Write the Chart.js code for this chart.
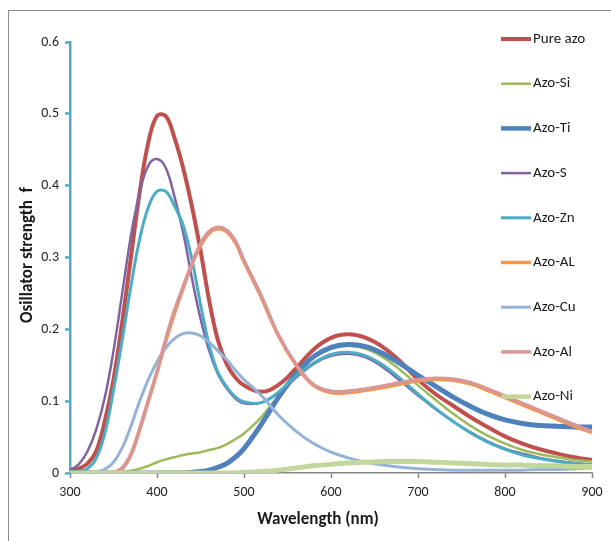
<!DOCTYPE html>
<html>
<head>
<meta charset="utf-8">
<script src="https://cdn.jsdelivr.net/npm/chart.js@4"></script>
<style>
  body { margin: 0; background: #fff; }
  canvas { display: block; }
</style>
</head>
<body>
<canvas id="oscChart" width="611" height="541"></canvas>
<script>
// wavelengths (nm) - finer steps where the bands are steep
const wavelengths = [300, 310, 320, 330, 340, 350, 360, 370, 380, 390, 400, 410, 420, 430, 440, 450, 460, 470, 480, 490, 500,
                     520, 540, 560, 580, 600, 620, 640, 660, 680, 700, 720, 740, 760, 780, 800, 820, 840, 860, 880, 900];

const pureAzo = [0.002, 0.006, 0.013, 0.03, 0.072, 0.13, 0.21, 0.30, 0.39, 0.46, 0.497, 0.497, 0.467, 0.425, 0.372, 0.31, 0.24, 0.185, 0.152, 0.133, 0.122,
                 0.113, 0.123, 0.146, 0.172, 0.188, 0.193, 0.188, 0.175, 0.155, 0.13, 0.11, 0.094, 0.078, 0.064, 0.051, 0.041, 0.033, 0.027, 0.022, 0.018];
const azoSi = [0, 0, 0, 0, 0, 0, 0.001, 0.003, 0.006, 0.01, 0.015, 0.019, 0.022, 0.025, 0.027, 0.029, 0.032, 0.035, 0.04, 0.047, 0.055,
               0.078, 0.108, 0.137, 0.16, 0.173, 0.177, 0.173, 0.161, 0.143, 0.122, 0.102, 0.083, 0.066, 0.052, 0.041, 0.032, 0.026, 0.022, 0.018, 0.016];
const azoTi = [0, 0, 0, 0, 0, 0, 0, 0, 0, 0, 0, 0, 0, 0, 0.001, 0.002, 0.004, 0.008, 0.013, 0.022, 0.034,
               0.068, 0.106, 0.138, 0.162, 0.175, 0.179, 0.176, 0.166, 0.152, 0.136, 0.121, 0.106, 0.093, 0.082, 0.074, 0.069, 0.066, 0.065, 0.064, 0.064];
const azoS = [0.004, 0.012, 0.03, 0.06, 0.105, 0.17, 0.25, 0.33, 0.39, 0.428, 0.437, 0.425, 0.385, 0.335, 0.272, 0.215, 0.17, 0.138, 0.118, 0.104, 0.097,
              0.098, 0.112, 0.133, 0.152, 0.163, 0.166, 0.161, 0.147, 0.128, 0.108, 0.089, 0.072, 0.057, 0.044, 0.034, 0.027, 0.021, 0.017, 0.014, 0.012];
const azoZn = [0, 0.002, 0.006, 0.02, 0.055, 0.115, 0.185, 0.26, 0.325, 0.37, 0.392, 0.392, 0.372, 0.345, 0.298, 0.235, 0.178, 0.14, 0.12, 0.106, 0.099,
               0.098, 0.113, 0.135, 0.153, 0.165, 0.168, 0.163, 0.15, 0.131, 0.11, 0.09, 0.072, 0.056, 0.043, 0.033, 0.025, 0.02, 0.016, 0.013, 0.011];
const azoAL = [0, 0, 0, 0, 0, 0.001, 0.006, 0.025, 0.06, 0.1, 0.14, 0.183, 0.222, 0.257, 0.29, 0.316, 0.334, 0.34, 0.336, 0.321, 0.294,
               0.244, 0.19, 0.15, 0.122, 0.112, 0.112, 0.115, 0.119, 0.124, 0.128, 0.13, 0.129, 0.124, 0.115, 0.105, 0.095, 0.085, 0.075, 0.065, 0.056];
const azoCu = [0, 0, 0.001, 0.002, 0.005, 0.015, 0.035, 0.065, 0.1, 0.13, 0.155, 0.174, 0.187, 0.194, 0.195, 0.191, 0.182, 0.17, 0.158, 0.143, 0.13,
               0.108, 0.08, 0.058, 0.041, 0.029, 0.021, 0.015, 0.011, 0.008, 0.006, 0.005, 0.004, 0.004, 0.004, 0.004, 0.004, 0.005, 0.005, 0.006, 0.007];
const azoAl = [0, 0, 0, 0, 0, 0.001, 0.007, 0.026, 0.061, 0.101, 0.141, 0.186, 0.226, 0.259, 0.291, 0.319, 0.336, 0.342, 0.338, 0.323, 0.296,
               0.246, 0.191, 0.151, 0.123, 0.114, 0.114, 0.117, 0.121, 0.126, 0.13, 0.132, 0.131, 0.126, 0.117, 0.107, 0.097, 0.087, 0.077, 0.067, 0.058];
const azoNi = [0, 0, 0, 0, 0, 0, 0, 0, 0, 0, 0, 0, 0, 0, 0, 0, 0, 0, 0, 0, 0.001,
               0.002, 0.004, 0.007, 0.01, 0.012, 0.014, 0.015, 0.016, 0.016, 0.016, 0.015, 0.014, 0.013, 0.012, 0.011, 0.011, 0.01, 0.01, 0.009, 0.009];

const seriesNames = ["Pure azo", "Azo-Si", "Azo-Ti", "Azo-S", "Azo-Zn", "Azo-AL", "Azo-Cu", "Azo-Al", "Azo-Ni"];
const seriesValues = [pureAzo, azoSi, azoTi, azoS, azoZn, azoAL, azoCu, azoAl, azoNi];
const seriesColors = ["#C0504D", "#9BBB59", "#4F81BD", "#8064A2", "#4BACC6", "#F79646", "#95B3D7", "#D99694", "#C3D69B"];
const seriesWidths = [4, 2.5, 5, 2.5, 3, 3.5, 3, 3.5, 5];

const xTicks = [300, 400, 500, 600, 700, 800, 900];
const yTicks = [0, 0.1, 0.2, 0.3, 0.4, 0.5, 0.6];

const fontFam = 'Carlito, "Liberation Sans", Arial, sans-serif';

const datasets = seriesNames.map((name, i) => ({
    label: name,
    data: wavelengths.map((w, j) => ({ x: w, y: seriesValues[i][j] })),
    borderColor: seriesColors[i],
    borderWidth: seriesWidths[i],
    pointRadius: 0,
    fill: false,
    tension: 0.4,
    order: seriesNames.length - i   // later series drawn on top, like the original
}));

// frame, axis titles and the legend drawn straight on the canvas
const decorations = {
    id: 'decorations',
    beforeDraw(chart) {
        const c = chart.ctx;
        c.save();
        c.fillStyle = '#fff';
        c.fillRect(0, 0, chart.width, chart.height);
        c.strokeStyle = '#8c8c8c';
        c.lineWidth = 1;
        c.strokeRect(8.5, 10.5, 700, 700);
        c.restore();
    },
    afterDraw(chart) {
        const c = chart.ctx;
        c.save();
        c.fillStyle = '#1a1a1a';
        c.font = 'bold 17px ' + fontFam;
        c.textAlign = 'center';
        c.textBaseline = 'middle';
        c.fillText('Wavelength (nm)', 318, 520);

        c.translate(28, 255);
        c.rotate(-Math.PI / 2);
        c.fillText('Osillator strength  f', 0, 0);
        c.restore();

        c.save();
        c.font = '15px ' + fontFam;
        c.textAlign = 'left';
        c.textBaseline = 'middle';
        seriesNames.forEach((name, i) => {
            const y = 39 + i * 44.7;
            c.strokeStyle = seriesColors[i];
            c.lineWidth = Math.min(seriesWidths[i], 4.5);
            c.beginPath();
            c.moveTo(501, y);
            c.lineTo(531, y);
            c.stroke();
            c.fillStyle = '#1a1a1a';
            c.fillText(name, 533, y);
        });
        c.restore();
    }
};

const config = {
    type: 'line',
    data: { datasets },
    options: {
        responsive: false,
        animation: false,
        layout: { padding: { top: 42, right: 19, bottom: 0, left: 0 } },
        plugins: {
            legend: { display: false },
            tooltip: { enabled: false }
        },
        scales: {
            x: {
                type: 'linear',
                min: 300,
                max: 900,
                afterFit(scale) { scale.height = 68; },
                afterBuildTicks(scale) { scale.ticks = xTicks.map(v => ({ value: v })); },
                border: { color: '#868686', width: 1.5 },
                grid: { drawOnChartArea: false, tickLength: 5, tickColor: '#868686', tickWidth: 1.5 },
                ticks: { padding: 6, color: '#262626', font: { family: fontFam, size: 14 } }
            },
            y: {
                min: 0,
                max: 0.6,
                afterFit(scale) { scale.width = 70; },
                afterBuildTicks(scale) { scale.ticks = yTicks.map(v => ({ value: v })); },
                border: { color: '#4BACC6', width: 2.5 },
                grid: { drawOnChartArea: false, tickLength: 5, tickColor: '#4BACC6', tickWidth: 2.5 },
                ticks: { padding: 6, color: '#262626', font: { family: fontFam, size: 14 },
                         callback: v => String(v) }
            }
        }
    },
    plugins: [decorations]
};

new Chart(document.getElementById('oscChart').getContext('2d'), config);
</script>
</body>
</html>
